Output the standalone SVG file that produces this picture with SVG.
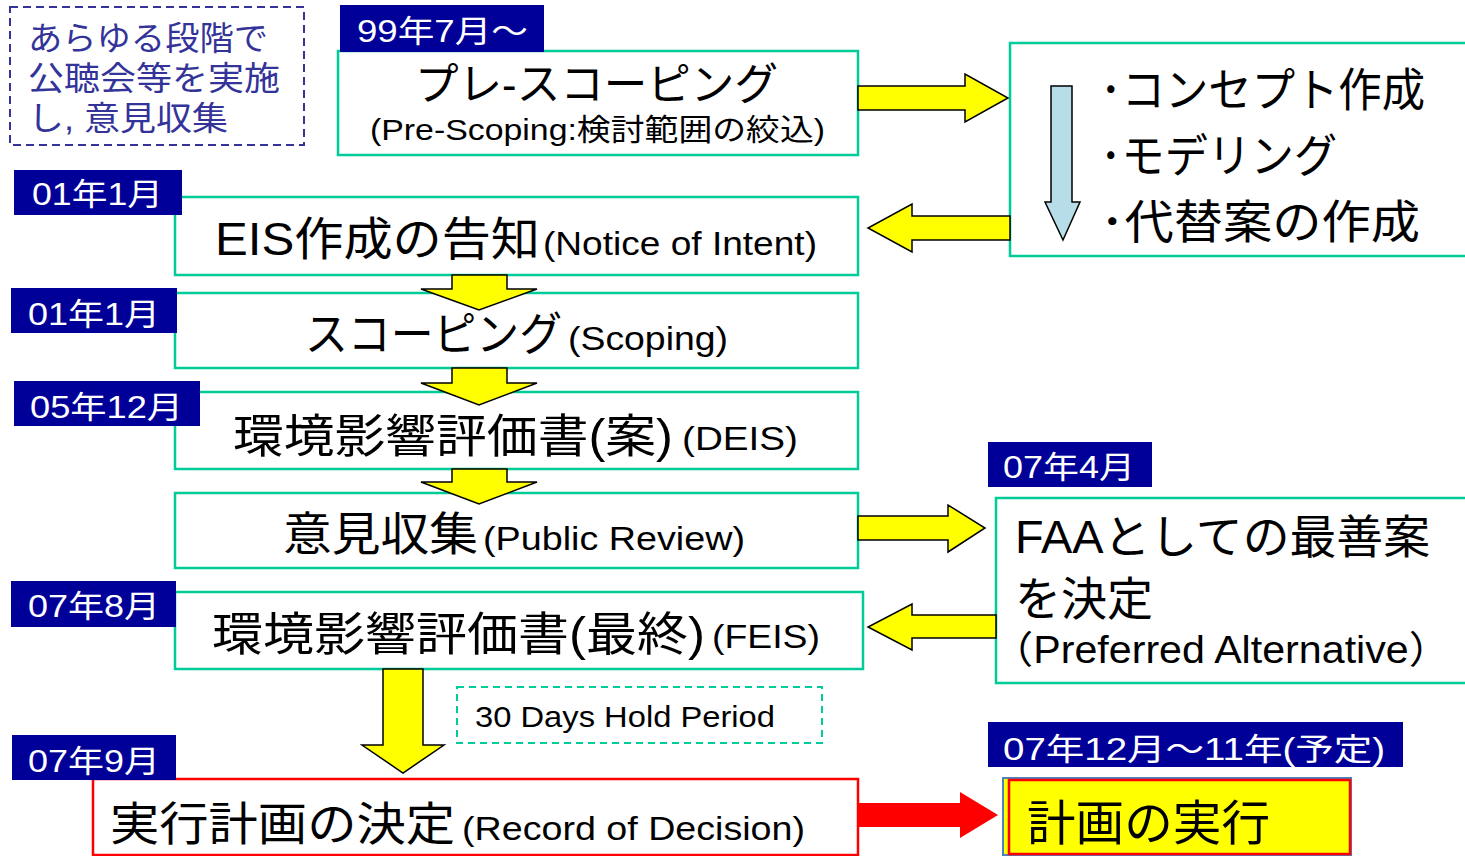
<svg xmlns="http://www.w3.org/2000/svg" width="1465" height="856" viewBox="0 0 1465 856">
<defs>
<style>
.box{fill:#fff;stroke:#00CC99;stroke-width:2.5}
.lab{fill:#000099}
.lt{font-family:"Liberation Sans","Noto Sans CJK JP",sans-serif;font-size:31px;fill:#fff}
.t{font-family:"Liberation Sans","Noto Sans CJK JP",sans-serif;fill:#000}
.big{font-size:46px}
.sm{font-size:33px}
.ya{fill:#FFFF00;stroke:#000;stroke-width:1.5;stroke-linejoin:miter}
</style>
</defs>
<rect width="1465" height="856" fill="#fff"/>

<g id="note">
<rect x="10" y="7" width="294" height="138" fill="none" stroke="#333399" stroke-width="2" stroke-dasharray="8,5"/>
<text class="t" x="28" y="50" font-size="33" style="fill:#333399" textLength="240" lengthAdjust="spacingAndGlyphs">あらゆる段階で</text>
<text class="t" x="28" y="90" font-size="33" style="fill:#333399" textLength="252" lengthAdjust="spacingAndGlyphs">公聴会等を実施</text>
<text class="t" x="28" y="130" font-size="33" style="fill:#333399" textLength="200" lengthAdjust="spacingAndGlyphs">し, 意見収集</text>
</g>

<g id="prescoping">
<rect class="box" x="338" y="51" width="520" height="104"/>
<rect class="lab" x="340" y="5" width="204" height="47"/>
<text class="lt" x="357" y="42" textLength="171" lengthAdjust="spacingAndGlyphs">99年7月～</text>
<text class="t" x="415" y="100" font-size="44" textLength="363" lengthAdjust="spacingAndGlyphs">プレ-スコーピング</text>
<text class="t" x="370" y="140" font-size="30" textLength="455" lengthAdjust="spacingAndGlyphs">(Pre-Scoping:検討範囲の絞込)</text>
</g>

<g id="concept">
<rect class="box" x="1010" y="43" width="470" height="213"/>
<polygon points="1051,86 1072,86 1072,202 1080,202 1063,240 1045,202 1051,202" fill="#B7DEE8" stroke="#000" stroke-width="1.5"/>
<text class="t big" x="1100" y="106" textLength="325" lengthAdjust="spacingAndGlyphs">･コンセプト作成</text>
<text class="t big" x="1100" y="172" textLength="237" lengthAdjust="spacingAndGlyphs">･モデリング</text>
<text class="t big" x="1100" y="238" textLength="320" lengthAdjust="spacingAndGlyphs">･代替案の作成</text>
</g>

<g id="noi">
<rect class="box" x="175" y="197" width="683" height="78"/>
<rect class="lab" x="14" y="170" width="168" height="45"/>
<text class="lt" x="32" y="205" textLength="131" lengthAdjust="spacingAndGlyphs">01年1月</text>
<text class="t big" x="215" y="255" textLength="325" lengthAdjust="spacingAndGlyphs">EIS作成の告知</text>
<text class="t sm" x="543" y="255" textLength="274" lengthAdjust="spacingAndGlyphs">(Notice of Intent)</text>
</g>

<g id="scoping">
<rect class="box" x="175" y="293" width="683" height="75"/>
<rect class="lab" x="11" y="288" width="166" height="45"/>
<text class="lt" x="28" y="325" textLength="132" lengthAdjust="spacingAndGlyphs">01年1月</text>
<text class="t big" x="305" y="350" textLength="257" lengthAdjust="spacingAndGlyphs">スコーピング</text>
<text class="t sm" x="568" y="350" textLength="160" lengthAdjust="spacingAndGlyphs">(Scoping)</text>
</g>

<g id="deis">
<rect class="box" x="175" y="392" width="683" height="77"/>
<rect class="lab" x="14" y="381" width="186" height="45"/>
<text class="lt" x="30" y="418" textLength="153" lengthAdjust="spacingAndGlyphs">05年12月</text>
<text class="t big" x="233" y="452" textLength="440" lengthAdjust="spacingAndGlyphs">環境影響評価書(案)</text>
<text class="t sm" x="682" y="450" textLength="116" lengthAdjust="spacingAndGlyphs">(DEIS)</text>
</g>

<g id="review">
<rect class="box" x="175" y="493" width="683" height="75"/>
<text class="t big" x="283" y="550" textLength="195" lengthAdjust="spacingAndGlyphs">意見収集</text>
<text class="t sm" x="483" y="550" textLength="262" lengthAdjust="spacingAndGlyphs">(Public Review)</text>
</g>

<g id="preferred">
<rect class="box" x="996" y="498" width="484" height="185"/>
<rect class="lab" x="988" y="442" width="164" height="45"/>
<text class="lt" x="1003" y="478" textLength="132" lengthAdjust="spacingAndGlyphs">07年4月</text>
<text class="t big" x="1015" y="553" textLength="415" lengthAdjust="spacingAndGlyphs">FAAとしての最善案</text>
<text class="t big" x="1015" y="615" textLength="138" lengthAdjust="spacingAndGlyphs">を決定</text>
<text class="t" x="992" y="663" font-size="38" textLength="458" lengthAdjust="spacingAndGlyphs">（Preferred Alternative）</text>
</g>

<g id="feis">
<rect class="box" x="175" y="592" width="688" height="77"/>
<rect class="lab" x="11" y="581" width="165" height="46"/>
<text class="lt" x="28" y="617" textLength="132" lengthAdjust="spacingAndGlyphs">07年8月</text>
<text class="t big" x="212" y="650" textLength="493" lengthAdjust="spacingAndGlyphs">環境影響評価書(最終)</text>
<text class="t sm" x="712" y="648" textLength="108" lengthAdjust="spacingAndGlyphs">(FEIS)</text>
</g>

<g id="hold">
<rect x="457" y="687" width="365" height="56" fill="none" stroke="#00CC99" stroke-width="2" stroke-dasharray="7,5"/>
<text class="t" x="475" y="727" font-size="30" textLength="300" lengthAdjust="spacingAndGlyphs">30 Days Hold Period</text>
</g>

<g id="rod">
<rect x="93" y="779" width="765" height="76" fill="#fff" stroke="#FF0000" stroke-width="2.5"/>
<rect class="lab" x="12" y="735" width="164" height="45"/>
<text class="lt" x="28" y="772" textLength="132" lengthAdjust="spacingAndGlyphs">07年9月</text>
<text class="t big" x="110" y="840" textLength="345" lengthAdjust="spacingAndGlyphs">実行計画の決定</text>
<text class="t sm" x="462" y="840" textLength="343" lengthAdjust="spacingAndGlyphs">(Record of Decision)</text>
</g>

<g id="implement">
<rect x="1003" y="778" width="348" height="77" fill="#FFFF00" stroke="#4F81BD" stroke-width="2"/>
<rect x="1009" y="780" width="341" height="74" fill="none" stroke="#FF0000" stroke-width="2.5"/>
<rect class="lab" x="988" y="722" width="415" height="45"/>
<text class="lt" x="1003" y="760" textLength="382" lengthAdjust="spacingAndGlyphs">07年12月～11年(予定)</text>
<text class="t" x="1027" y="840" font-size="48" textLength="243" lengthAdjust="spacingAndGlyphs">計画の実行</text>
</g>

<g id="connectors">
<polygon class="ya" points="858,86 965,86 965,74 1008,98 965,122 965,110 858,110"/>
<polygon class="ya" points="1010,216 912,216 912,204 868,228 912,252 912,240 1010,240"/>
<polygon class="ya" points="452,275 507,275 507,289 537,289 479,310 421,289 452,289"/>
<polygon class="ya" points="452,368 507,368 507,383 537,383 479,405 421,383 452,383"/>
<polygon class="ya" points="452,469 507,469 507,482 537,482 479,504 421,482 452,482"/>
<polygon class="ya" points="858,516 948,516 948,505 985,528 948,552 948,540 858,540"/>
<polygon class="ya" points="996,615 912,615 912,604 868,627 912,650 912,638 996,638"/>
<polygon class="ya" points="383,669 423,669 423,745 444,745 403,773 362,745 383,745"/>
<polygon points="858,803 960,803 960,792 998,815 960,838 960,827 858,827" fill="#FF0000"/>
</g>
</svg>
